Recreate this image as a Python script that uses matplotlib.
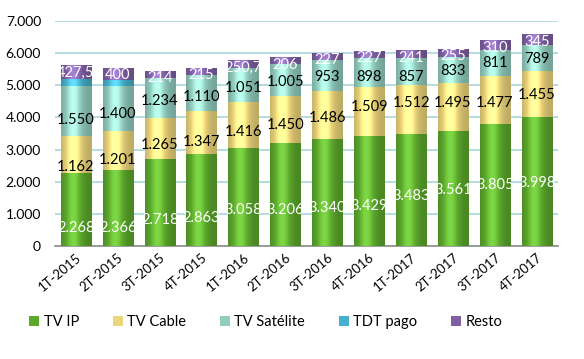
import matplotlib
matplotlib.use("Agg")
import matplotlib.pyplot as plt
import numpy as np
from matplotlib.colors import to_rgb

categories = ["1T-2015", "2T-2015", "3T-2015", "4T-2015", "1T-2016", "2T-2016",
              "3T-2016", "4T-2016", "1T-2017", "2T-2017", "3T-2017", "4T-2017"]
tv_ip = [2268, 2366, 2718, 2863, 3058, 3206, 3340, 3429, 3483, 3561, 3805, 3998]
tv_cable = [1162, 1201, 1265, 1347, 1416, 1450, 1486, 1509, 1512, 1495, 1477, 1455]
tv_satelite = [1550, 1400, 1234, 1110, 1051, 1005, 953, 898, 857, 833, 811, 789]
tdt_pago = [220, 185, 15, 0, 0, 0, 0, 0, 0, 0, 0, 0]
resto = [427.5, 400, 214, 215, 250.7, 206, 227, 227, 241, 255, 310, 345]
resto_labels = ["427,5", "400", "214", "215", "250,7", "206", "227", "227", "241", "255", "310", "345"]
series_names = ["TV IP", "TV Cable", "TV Satélite", "TDT pago", "Resto"]
yticks = [0, 1000, 2000, 3000, 4000, 5000, 6000, 7000]
ytick_labels = ["0", "1.000", "2.000", "3.000", "4.000", "5.000", "6.000", "7.000"]

# label placement (fraction of segment height) - layout only
ip_frac = [0.24, 0.24, 0.30, 0.30, 0.37, 0.35, 0.35, 0.36, 0.45, 0.49, 0.50, 0.49]
cable_frac = [0.16, 0.26, 0.33, 0.28, 0.35, 0.39, 0.43, 0.59, 0.64, 0.59, 0.44, 0.48]
sat_frac = [0.32, 0.39, 0.43, 0.39, 0.42, 0.44, 0.45, 0.36, 0.31, 0.47, 0.50, 0.46]

colors = ["#5ca92c", "#ecd67c", "#92cdbf", "#45b0cb", "#7f60a6"]

plt.rcParams['font.family'] = ['Lato', 'DejaVu Sans']

fig = plt.figure(figsize=(5.84, 3.59), dpi=100)
ax = fig.add_axes([0.094, 0.315, 0.861, 0.6265])

x = np.arange(len(categories))
w = 0.72
series = [tv_ip, tv_cable, tv_satelite, tdt_pago, resto]

def fmt(v):
    s = f"{int(round(v)):,}".replace(",", ".")
    return s

# gradient profile for cylinder shading
n = 64
t = np.linspace(0, 1, n)
prof = 0.8 + 0.38 * np.exp(-((t - 0.4) / 0.28) ** 2)

bottom = np.zeros(len(categories))
for s, name, c in zip(series, series_names, colors):
    vals = np.array(s, dtype=float)
    bars = ax.bar(x, vals, w, bottom=bottom, color=c, label=name, linewidth=0, zorder=2)
    base = np.array(to_rgb(c))
    grad = np.clip(base[None, :] * prof[:, None] + (prof[:, None] - 1).clip(0) * 0.35, 0, 1)
    img = grad[None, :, :]
    for b, xi, v, bt in zip(bars, x, vals, bottom):
        if v <= 0:
            continue
        im = ax.imshow(img, extent=(xi - w / 2, xi + w / 2, bt, bt + v), aspect='auto',
                       zorder=3, interpolation='bilinear')
        im.set_clip_path(b)
    bottom = bottom + vals

# labels
b0 = np.zeros(len(categories))
b1 = b0 + np.array(tv_ip)
b2 = b1 + np.array(tv_cable)
b3 = b2 + np.array(tv_satelite)
tops = b3 + np.array(tdt_pago) + np.array(resto)
fs = 10.5
for i in range(len(categories)):
    ax.text(x[i], b0[i] + tv_ip[i] * ip_frac[i], fmt(tv_ip[i]), ha='center', va='center',
            color='white', fontsize=fs, zorder=5)
    ax.text(x[i], b1[i] + tv_cable[i] * cable_frac[i], fmt(tv_cable[i]), ha='center', va='center',
            color='black', fontsize=fs, zorder=5)
    ax.text(x[i], b2[i] + tv_satelite[i] * sat_frac[i], fmt(tv_satelite[i]), ha='center', va='center',
            color='black', fontsize=fs, zorder=5)
    ax.text(x[i], tops[i] - 230, resto_labels[i], ha='center', va='center',
            color='white', fontsize=fs, zorder=5)

ax.set_xlim(-0.5, len(categories) - 0.5)
ax.set_ylim(0, 7000)
ax.set_yticks(yticks)
ax.set_yticklabels(ytick_labels, fontsize=10)
ax.set_xticks(x)
ax.set_xticklabels(categories, rotation=40, ha='right', rotation_mode='anchor', fontsize=9.5)
ax.tick_params(axis='both', length=0, pad=4)
ax.tick_params(axis='y', pad=10)
ax.yaxis.grid(True, color='#a9d6de', linewidth=1.2, zorder=0)
ax.set_axisbelow(True)
for sp in ['top', 'right', 'left']:
    ax.spines[sp].set_visible(False)
ax.spines['bottom'].set_color('#8c8c8c')
ax.spines['bottom'].set_linewidth(1.2)

handles, labels = ax.get_legend_handles_labels()
fig.legend(handles, labels, loc='center', bbox_to_anchor=(0.455, 0.103), ncol=5,
           frameon=False, fontsize=10.5, handlelength=0.7, handleheight=0.7,
           handletextpad=0.3, columnspacing=2.3)

fig.savefig("out.png", dpi=100)
